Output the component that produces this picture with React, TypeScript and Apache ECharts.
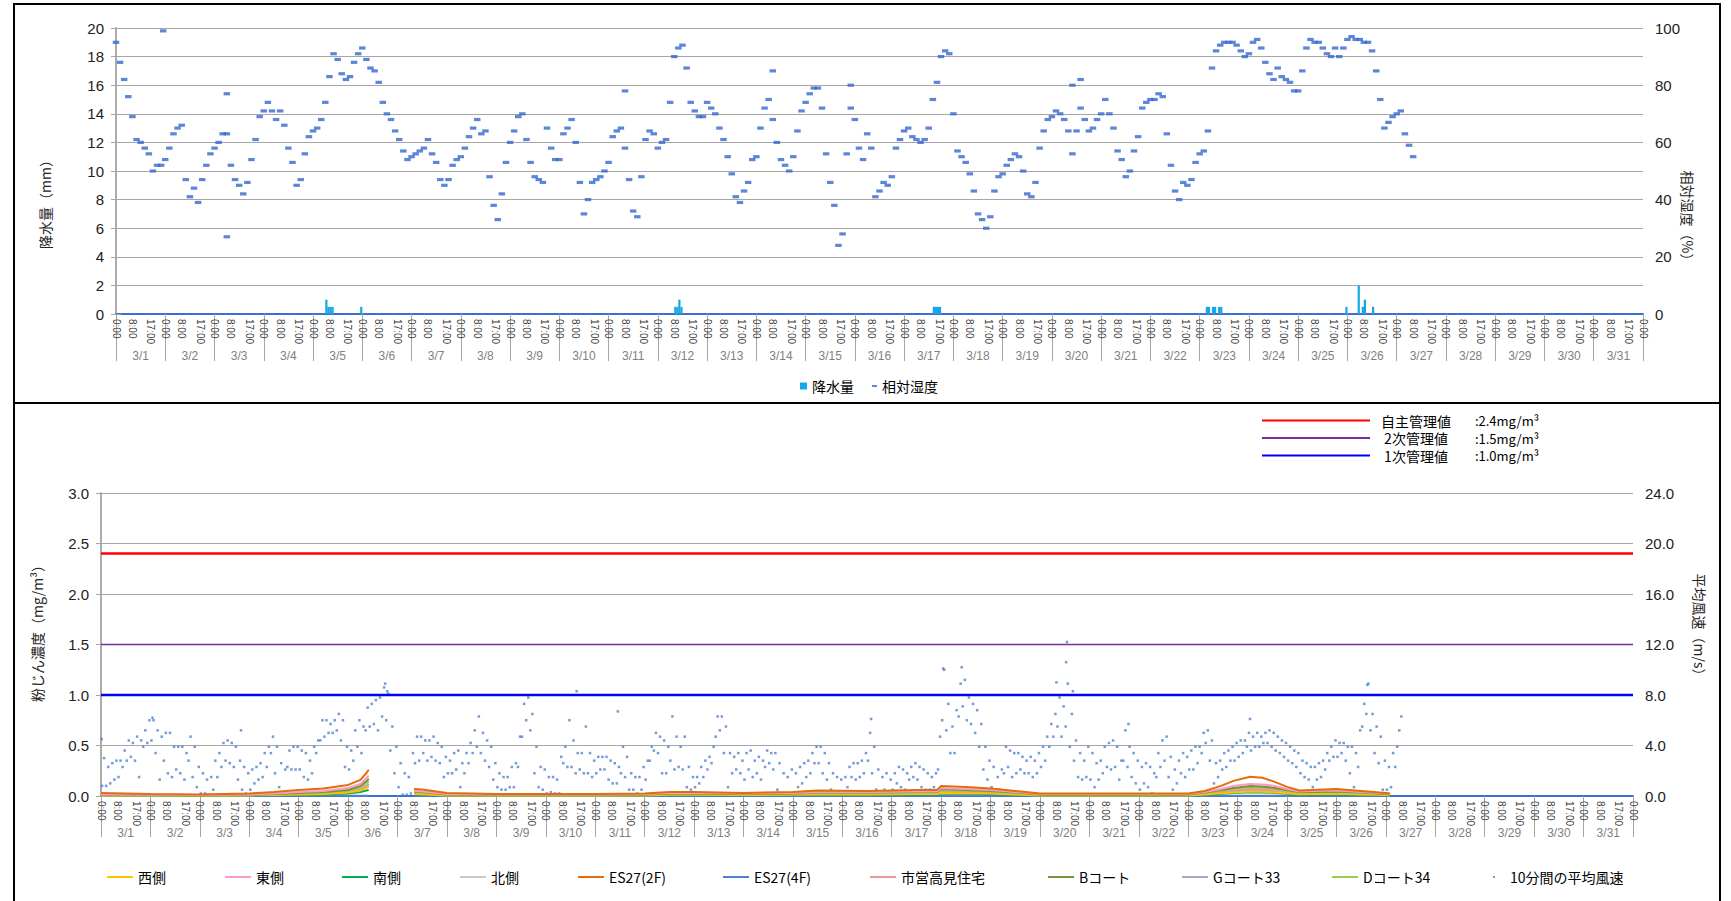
import React, { useEffect, useRef } from 'react';
import * as echarts from 'echarts';

const FONT = '"Noto Sans CJK JP", "Noto Sans", sans-serif';
const NUMFONT = '"Liberation Sans", Arial, sans-serif';
const NARROW = '"Liberation Sans Narrow", "Liberation Sans", sans-serif';

// ---------- axis labels ----------
const dayLabels = Array.from({ length: 31 }, (_, i) => `3/${i + 1}`);
const hourTickOffsets = [0, 8, 17];
const hourTickLabels = ['0:00', '8:00', '17:00'];

// ---------- top chart: precipitation (hourly, mm) ----------
const precipHours = [102, 103, 104, 105, 119, 272, 273, 274, 275, 398, 399, 400, 401, 531, 532, 534, 535, 537, 538, 599, 605, 607, 608, 612];
const precipMm = [1.0, 0.5, 0.5, 0.5, 0.5, 0.5, 0.5, 1.0, 0.5, 0.5, 0.5, 0.5, 0.5, 0.5, 0.5, 0.5, 0.5, 0.5, 0.5, 0.5, 2.0, 0.5, 1.0, 0.5];

// ---------- top chart: relative humidity (%), every 2 hours from 3/1 0:00 ----------
const humidity2h = [
  95, 88, 82, 76, 69, 61, 60, 58, 56, 50, 52, 52, // 3/1
  54, 58, 63, 65, 66, 47, 41, 44, 39, 47, 52, 56, // 3/2
  58, 60, 63, 63, 52, 47, 45, 42, 46, 54, 61, 69, // 3/3
  71, 74, 71, 68, 71, 66, 58, 53, 45, 47, 56, 62, // 3/4
  64, 65, 68, 74, 83, 91, 89, 84, 82, 83, 88, 91, // 3/5
  93, 89, 86, 85, 81, 74, 70, 68, 64, 61, 57, 54, // 3/6
  55, 56, 57, 58, 61, 56, 53, 47, 45, 47, 52, 54, // 3/7
  55, 58, 62, 65, 68, 63, 64, 48, 38, 33, 42, 53, // 3/8
  60, 64, 69, 70, 61, 53, 48, 47, 46, 65, 58, 54, // 3/9
  54, 63, 65, 68, 60, 46, 35, 40, 46, 47, 48, 50, // 3/10
  53, 62, 64, 65, 58, 47, 36, 34, 48, 61, 64, 63, // 3/11
  58, 60, 61, 74, 90, 93, 94, 86, 74, 71, 69, 69, // 3/12
  74, 72, 70, 65, 61, 55, 49, 41, 39, 43, 46, 54, // 3/13
  55, 65, 72, 75, 68, 60, 54, 52, 50, 55, 64, 71, // 3/14
  74, 77, 79, 79, 72, 56, 46, 38, 24, 28, 56, 72, // 3/15
  68, 58, 54, 63, 58, 41, 43, 46, 45, 48, 58, 61, // 3/16
  64, 65, 62, 61, 60, 61, 65, 75, 81, 90, 92, 91, // 3/17
  70, 57, 55, 53, 49, 43, 35, 33, 30, 34, 43, 48, // 3/18
  49, 52, 54, 56, 55, 50, 42, 41, 46, 58, 64, 68, // 3/19
  69, 71, 70, 68, 64, 56, 64, 72, 68, 64, 65, 68, // 3/20
  70, 75, 70, 65, 57, 54, 48, 50, 57, 62, 72, 74, // 3/21
  75, 75, 77, 76, 63, 52, 43, 40, 46, 45, 47, 53, // 3/22
  56, 57, 64, 86, 92, 94, 95, 95, 95, 94, 92, 90, // 3/23
  91, 95, 96, 93, 88, 84, 82, 86, 83, 82, 81, 78, // 3/24
  78, 85, 93, 96, 95, 95, 93, 91, 90, 93, 90, 93, // 3/25
  96, 97, 96, 96, 95, 95, 92, 85, 75, 65, 67, 69, // 3/26
  70, 71, 63, 59, 55, // 3/27
];
const humidityOutliers: [number, number][] = [[23, 99], [54, 77], [54, 27], [248, 78], [320, 85], [358, 80], [466, 80], [470, 82]];

// ---------- bottom chart: dust concentration (mg/m3) ----------
const pmHours = [0, 24, 48, 72, 84, 96, 108, 120, 126, 129, 130, 131, 152, 156, 168, 192, 216, 240, 264, 276, 288, 312, 336, 348, 372, 396, 406, 408, 420, 432, 444, 456, 480, 504, 528, 536, 544, 550, 558, 564, 570, 576, 582, 588, 600, 612, 624, 626];
const pmWest = [
  0.005, 0.005, 0.004, 0.006, 0.01, 0.015, 0.02, 0.035, 0.055, 0.08,
  0.09, null, 0.02, 0.018, 0.006, 0.005, 0.005, 0.005, 0.006, 0.012,
  0.012, 0.01, 0.012, 0.016, 0.016, 0.02, 0.02, 0.03, 0.028, 0.024,
  0.014, 0.006, 0.006, 0.006, 0.006, 0.014, 0.028, 0.035, 0.045, 0.042,
  0.035, 0.028, 0.018, 0.02, 0.022, 0.016, 0.01, 0.006];
const pmEast = [
  0.015, 0.012, 0.01, 0.015, 0.025, 0.04, 0.05, 0.08, 0.12, 0.18,
  0.2, null, 0.05, 0.045, 0.02, 0.015, 0.015, 0.015, 0.02, 0.03,
  0.03, 0.025, 0.03, 0.04, 0.04, 0.045, 0.045, 0.08, 0.07, 0.06,
  0.04, 0.02, 0.02, 0.02, 0.02, 0.04, 0.07, 0.1, 0.12, 0.115,
  0.1, 0.07, 0.045, 0.05, 0.055, 0.04, 0.025, 0.02];
const pmSouth = [
  0.004, 0.004, 0.003, 0.005, 0.008, 0.012, 0.016, 0.025, 0.04, 0.055,
  0.06, null, 0.015, 0.014, 0.005, 0.004, 0.004, 0.004, 0.005, 0.01,
  0.01, 0.008, 0.01, 0.013, 0.013, 0.016, 0.016, 0.025, 0.022, 0.02,
  0.012, 0.005, 0.005, 0.005, 0.005, 0.012, 0.022, 0.03, 0.038, 0.035,
  0.03, 0.022, 0.015, 0.016, 0.018, 0.013, 0.008, 0.005];
const pmNorth = [
  0.008, 0.008, 0.006, 0.01, 0.016, 0.025, 0.03, 0.05, 0.08, 0.12,
  0.14, null, 0.035, 0.03, 0.012, 0.008, 0.008, 0.008, 0.012, 0.02,
  0.02, 0.016, 0.02, 0.028, 0.028, 0.03, 0.03, 0.05, 0.045, 0.04,
  0.025, 0.01, 0.01, 0.01, 0.01, 0.025, 0.045, 0.065, 0.08, 0.075,
  0.065, 0.045, 0.03, 0.032, 0.035, 0.028, 0.015, 0.01];
const pmEs2f = [
  0.03, 0.02, 0.015, 0.025, 0.04, 0.06, 0.075, 0.11, 0.16, 0.23,
  0.26, null, 0.07, 0.065, 0.03, 0.02, 0.02, 0.02, 0.025, 0.04,
  0.04, 0.03, 0.04, 0.055, 0.05, 0.06, 0.06, 0.1, 0.09, 0.075,
  0.05, 0.025, 0.025, 0.025, 0.025, 0.05, 0.1, 0.15, 0.19, 0.18,
  0.14, 0.09, 0.055, 0.06, 0.07, 0.05, 0.03, 0.025];
const pmEs4f = [
  0.002, 0.002, 0.002, 0.002, 0.002, 0.002, 0.002, 0.002, 0.002, 0.002,
  0.002, null, 0.002, 0.002, 0.002, 0.002, 0.002, 0.002, 0.002, 0.002,
  0.002, 0.002, 0.002, 0.002, 0.002, 0.002, 0.002, 0.002, 0.002, 0.002,
  0.002, 0.002, 0.002, 0.002, 0.002, 0.002, 0.002, 0.002, 0.002, 0.002,
  0.002, 0.002, 0.002, 0.002, 0.002, 0.002, 0.002, 0.002];
const pmTakami = [
  0.01, 0.009, 0.007, 0.01, 0.015, 0.022, 0.028, 0.045, 0.07, 0.1,
  0.12, null, 0.03, 0.028, 0.01, 0.008, 0.008, 0.008, 0.01, 0.018,
  0.018, 0.015, 0.018, 0.025, 0.025, 0.028, 0.028, 0.045, 0.04, 0.035,
  0.022, 0.01, 0.01, 0.01, 0.01, 0.022, 0.04, 0.055, 0.07, 0.065,
  0.055, 0.04, 0.028, 0.03, 0.032, 0.025, 0.014, 0.01];
const pmCourtB = [
  0.01, 0.01, 0.008, 0.012, 0.02, 0.03, 0.04, 0.06, 0.1, 0.15,
  0.17, null, 0.045, 0.04, 0.015, 0.012, 0.012, 0.012, 0.015, 0.025,
  0.025, 0.02, 0.025, 0.035, 0.035, 0.04, 0.04, 0.07, 0.06, 0.05,
  0.035, 0.015, 0.015, 0.015, 0.015, 0.035, 0.06, 0.08, 0.1, 0.095,
  0.08, 0.06, 0.04, 0.04, 0.045, 0.035, 0.02, 0.015];
const pmCourtG33 = [
  0.006, 0.006, 0.005, 0.008, 0.012, 0.018, 0.024, 0.04, 0.065, 0.09,
  0.1, null, 0.025, 0.022, 0.008, 0.006, 0.006, 0.006, 0.008, 0.015,
  0.015, 0.012, 0.015, 0.02, 0.02, 0.024, 0.024, 0.04, 0.035, 0.03,
  0.018, 0.008, 0.008, 0.008, 0.008, 0.018, 0.035, 0.045, 0.06, 0.055,
  0.045, 0.035, 0.022, 0.024, 0.026, 0.02, 0.012, 0.008];
const pmCourtD34 = [
  0.012, 0.01, 0.008, 0.01, 0.018, 0.028, 0.035, 0.055, 0.09, 0.13,
  0.15, null, 0.04, 0.036, 0.014, 0.01, 0.01, 0.01, 0.014, 0.022,
  0.022, 0.018, 0.022, 0.03, 0.03, 0.035, 0.035, 0.06, 0.055, 0.045,
  0.03, 0.012, 0.012, 0.012, 0.012, 0.03, 0.055, 0.075, 0.09, 0.085,
  0.075, 0.055, 0.035, 0.036, 0.04, 0.03, 0.018, 0.012];

// ---------- bottom chart: 10-minute mean wind speed (m/s), low/high of each 2h window ----------
const windLo = [
  0.8, 0.8, 1.0, 1.3, 1.5, 2.3, 2.8, 3.1, 2.8, 1.5, 3.9, 4.2,
  4.4, 3.4, 1.3, 2.8, 1.8, 1.5, 2.1, 1.8, 1.3, 2.8, 1.5, 0.7,
  0.2, 0.2, 0.1, 0.5, 1.5, 2.3, 2.8, 2.6, 2.3, 1.3, 0.5, 0.2,
  0.5, 1.0, 1.3, 1.5, 2.3, 3.4, 1.8, 0.7, 0.1, 2.3, 2.1, 2.1,
  2.1, 1.5, 1.3, 1.8, 3.4, 4.4, 4.7, 5.0, 5.0, 5.2, 4.4, 2.3,
  2.1, 2.8, 3.9, 3.4, 5.2, 5.5, 5.7, 5.2, 6.3, 6.0, 3.6, 1.8,
  0.7, 0.1, 0.1, 0.2, 2.6, 2.8, 3.4, 2.8, 3.1, 2.8, 2.6, 1.5,
  1.8, 1.8, 2.1, 0.7, 1.8, 2.6, 3.4, 3.9, 3.4, 2.8, 2.3, 1.3,
  0.7, 0.5, 0.5, 0.7, 0.7, 2.3, 4.7, 6.0, 5.2, 1.8, 0.7, 0.5,
  0.2, 0.3, 0.2, 0.2, 2.6, 2.3, 2.3, 1.8, 2.1, 1.8, 1.8, 1.5,
  1.8, 2.1, 2.1, 1.3, 1.0, 1.0, 1.8, 1.5, 0.5, 0.5, 0.2, 0.5,
  1.3, 2.8, 3.6, 3.4, 1.8, 1.8, 2.8, 2.1, 2.3, 2.1, 0.7, 0.5,
  0.7, 1.0, 1.5, 2.1, 2.6, 4.7, 5.2, 3.4, 0.7, 1.8, 2.1, 1.8,
  1.3, 2.1, 1.5, 1.8, 1.3, 2.3, 2.6, 2.1, 0.5, 0.2, 0.2, 0.2,
  0.2, 0.7, 1.0, 1.5, 1.8, 2.6, 2.6, 1.8, 1.3, 0.5, 0.2, 0.2,
  0.2, 0.7, 1.5, 1.3, 1.5, 1.8, 2.8, 1.8, 0.5, 0.2, 0.5, 0.2,
  0.5, 1.0, 0.7, 0.5, 1.3, 1.5, 1.3, 0.7, 0.5, 0.5, 0.7, 2.1,
  6.0, 5.2, 3.4, 3.4, 6.3, 7.1, 6.0, 5.7, 5.0, 3.9, 2.1, 1.3,
  0.7, 0.2, 0.5, 1.8, 2.3, 1.5, 1.8, 2.1, 1.8, 1.8, 1.5, 1.8,
  2.3, 2.8, 3.9, 4.7, 5.5, 4.7, 5.5, 3.9, 2.8, 1.5, 1.3, 1.5,
  1.3, 0.7, 1.3, 1.8, 2.3, 2.1, 2.3, 1.3, 2.8, 2.3, 1.5, 1.0,
  0.5, 1.0, 0.7, 0.2, 1.5, 2.3, 2.8, 1.5, 0.5, 1.0, 1.8, 1.5,
  2.1, 2.1, 2.6, 3.4, 4.2, 2.8, 1.0, 1.5, 2.1, 2.3, 2.8, 2.8,
  3.1, 3.4, 3.9, 3.6, 3.9, 3.9, 4.2, 4.2, 3.9, 3.6, 3.4, 3.1,
  2.8, 2.6, 2.3, 1.8, 1.5, 1.3, 0.7, 1.3, 1.5, 2.1, 2.8, 3.1,
  3.1, 3.4, 2.8, 1.8, 0.7, 2.3, 5.5, 6.5, 5.2, 3.4, 2.6, 0.5,
  0.5, 0.7, 2.3, 5.2,
];
const windHi = [
  3.0, 2.3, 2.6, 2.8, 2.8, 3.6, 4.4, 4.2, 4.7, 4.4, 5.2, 6.0,
  6.0, 5.2, 4.7, 5.0, 5.0, 3.9, 3.9, 3.9, 3.4, 4.7, 3.9, 2.3,
  1.8, 1.3, 1.5, 2.8, 3.4, 4.2, 4.4, 4.2, 3.9, 2.8, 2.3, 1.8,
  2.1, 2.3, 2.6, 3.4, 3.9, 4.7, 3.9, 2.6, 2.1, 3.6, 3.9, 3.9,
  3.6, 3.4, 2.8, 3.9, 4.4, 6.0, 6.0, 5.7, 6.0, 6.5, 6.0, 3.9,
  3.6, 5.2, 6.0, 5.5, 7.0, 7.3, 7.6, 7.8, 8.6, 8.1, 5.5, 3.9,
  2.6, 1.8, 1.5, 3.4, 4.7, 4.7, 4.4, 4.4, 4.7, 4.2, 3.9, 3.1,
  2.8, 3.4, 3.6, 2.6, 3.4, 4.2, 5.2, 6.3, 5.0, 4.4, 3.9, 2.6,
  1.8, 1.5, 1.5, 2.3, 2.6, 4.7, 7.3, 7.8, 6.5, 3.9, 2.3, 2.1,
  1.5, 1.5, 1.3, 3.1, 3.9, 6.0, 4.4, 3.4, 3.4, 5.5, 3.4, 2.8,
  3.1, 3.1, 3.1, 2.8, 2.6, 2.3, 3.9, 3.1, 1.8, 1.5, 1.5, 2.3,
  2.8, 3.9, 5.0, 4.7, 4.4, 3.9, 6.3, 4.7, 3.9, 4.7, 2.3, 1.5,
  1.5, 2.3, 2.8, 3.1, 3.9, 6.3, 6.3, 5.5, 3.4, 3.1, 3.4, 2.8,
  3.4, 3.6, 2.8, 3.1, 2.8, 3.6, 3.4, 3.4, 2.6, 1.8, 1.5, 2.1,
  1.8, 2.3, 2.6, 2.8, 3.4, 3.9, 3.9, 3.4, 2.6, 1.8, 1.5, 1.3,
  1.5, 2.3, 2.6, 2.6, 2.8, 3.4, 5.0, 3.9, 2.1, 1.5, 1.8, 1.3,
  1.8, 2.3, 2.1, 1.8, 2.3, 2.6, 2.3, 2.1, 1.8, 1.5, 1.8, 4.7,
  10.0, 7.3, 5.5, 6.8, 8.9, 9.2, 7.8, 7.3, 6.8, 5.7, 3.9, 2.8,
  2.3, 1.5, 2.1, 3.9, 3.6, 3.4, 3.4, 3.1, 2.8, 3.1, 2.8, 3.4,
  3.9, 4.7, 5.7, 6.5, 7.8, 7.1, 8.9, 6.5, 4.4, 3.4, 2.8, 3.9,
  3.4, 2.6, 2.8, 3.9, 4.2, 4.4, 3.9, 2.8, 5.2, 3.9, 3.4, 2.8,
  2.3, 2.6, 2.3, 1.8, 3.4, 4.4, 4.7, 3.1, 2.1, 2.8, 3.4, 3.1,
  3.6, 3.9, 3.9, 5.0, 5.2, 4.4, 2.6, 2.8, 3.4, 3.6, 3.9, 4.2,
  4.4, 4.4, 5.0, 4.7, 5.0, 4.7, 5.0, 5.2, 5.0, 4.7, 4.4, 4.2,
  3.9, 3.6, 3.4, 2.8, 2.6, 2.3, 2.3, 2.6, 2.8, 3.4, 3.9, 4.4,
  4.2, 4.2, 3.9, 3.9, 3.4, 5.2, 7.3, 8.9, 6.5, 5.5, 4.7, 2.8,
  2.3, 3.4, 3.9, 6.3,
];
const windPeaks: [number, number][] = [[0.3, 4.5], [25, 6.2], [68, 5.2], [138, 8.9], [139, 8.3], [231, 8.3], [251, 6.7], [374, 6.1], [409, 10.1], [418, 10.2], [464, 9.0], [468.7, 10.6], [469.1, 12.2], [472, 8.3], [499, 5.7], [558, 6.1], [615, 8.8]];

// ---------- limit values ----------
const limitNames = ['自主管理値', '2次管理値', '1次管理値'];
const limitValues = [2.4, 1.5, 1.0];
const limitTexts = [':2.4mg/m³', ':1.5mg/m³', ':1.0mg/m³'];
const limitColors = ['#ff0000', '#7030a0', '#0000ff'];
const limitWidths = [2.5, 1.5, 2.5];

const pmSeriesDefs: { name: string; data: (number | null)[]; color: string }[] = [
  { name: '西側', data: pmWest, color: '#ffc000' },
  { name: '東側', data: pmEast, color: '#ff99cc' },
  { name: '南側', data: pmSouth, color: '#00b050' },
  { name: '北側', data: pmNorth, color: '#c8c8c8' },
  { name: 'ES27(2F)', data: pmEs2f, color: '#e46c0a' },
  { name: 'ES27(4F)', data: pmEs4f, color: '#4f81d0' },
  { name: '市営高見住宅', data: pmTakami, color: '#e6999b' },
  { name: 'Bコート', data: pmCourtB, color: '#77933c' },
  { name: 'Gコート33', data: pmCourtG33, color: '#b3a2c7' },
  { name: 'Dコート34', data: pmCourtD34, color: '#92d050' },
];
const legendLefts = [107, 225, 342, 460, 578, 723, 870, 1048, 1182, 1332];
const WIND_NAME = '10分間の平均風速';

const dayBounds = Array.from({ length: 32 }, (_, d) => d * 24);
const dayCenters = Array.from({ length: 31 }, (_, d) => d * 24 + 12);
const hourTicks: number[] = [];
for (let d = 0; d < 31; d++) hourTickOffsets.forEach((h) => hourTicks.push(d * 24 + h));
hourTicks.push(744);

function hourAxis(gridIndex: number, tickLen: number) {
  return {
    type: 'value', gridIndex, min: 0, max: 744, position: 'bottom',
    axisLine: { show: true, onZero: false, lineStyle: { color: '#3b6fd4', width: 2 } },
    axisTick: { show: true, customValues: dayBounds, length: tickLen, lineStyle: { color: '#a6a6a6', width: 1 } },
    axisLabel: {
      customValues: hourTicks, showMinLabel: true, showMaxLabel: true,
      formatter: (v: number) => hourTickLabels[hourTickOffsets.indexOf(Math.round(v) % 24)],
      rotate: -90, margin: 5, fontSize: 10, color: '#404040', fontFamily: NARROW,
    },
    splitLine: { show: false },
  };
}
function dayAxis(gridIndex: number, offset: number) {
  return {
    type: 'value', gridIndex, min: 0, max: 744, position: 'bottom', offset,
    axisLine: { show: false }, axisTick: { show: false }, splitLine: { show: false },
    axisLabel: {
      customValues: dayCenters, formatter: (v: number) => dayLabels[Math.floor(v / 24)],
      fontSize: 12, color: '#7f7f7f', margin: 0, fontFamily: NUMFONT,
    },
  };
}
function yAxis(gridIndex: number, position: string, max: number, interval: number, split: boolean, digits: number) {
  return {
    type: 'value', gridIndex, position, min: 0, max, interval,
    axisLine: { show: true, lineStyle: { color: '#a6a6a6', width: 1.5 } },
    axisTick: { show: true, length: 5, lineStyle: { color: '#a6a6a6' } },
    axisLabel: { fontSize: 15, color: '#222', margin: 12, fontFamily: NUMFONT, formatter: (v: number) => v.toFixed(digits) },
    splitLine: { show: split, lineStyle: { color: '#a6a6a6', width: 1 } },
  };
}

function buildOption() {
  const series: any[] = [];
  series.push({
    name: '降水量', type: 'bar', xAxisIndex: 0, yAxisIndex: 0, barWidth: 2.2,
    itemStyle: { color: '#16a6e6' }, data: precipHours.map((h, i) => [h + 0.5, precipMm[i]]),
  });
  series.push({
    name: '相対湿度', type: 'scatter', xAxisIndex: 0, yAxisIndex: 1, symbol: 'rect', symbolSize: [6.5, 3.2],
    itemStyle: { color: '#3468d0' },
    data: humidity2h.map((v, i) => [i * 2, v]).concat(humidityOutliers),
  });
  series.push({
    name: WIND_NAME, type: 'scatter', xAxisIndex: 2, yAxisIndex: 3, symbol: 'rect', symbolSize: 2.5,
    itemStyle: { color: '#4f83cc' },
    data: windLo.map((v, i) => [i * 2 + 0.5, v]).concat(windHi.map((v, i) => [i * 2 + 1.5, v])).concat(windPeaks),
  });
  const order = [5, 3, 8, 6, 2, 0, 9, 7, 1, 4];
  order.forEach((k) => {
    const s = pmSeriesDefs[k];
    series.push({
      name: s.name, type: 'line', xAxisIndex: 2, yAxisIndex: 2, symbol: 'none', connectNulls: false,
      lineStyle: { color: s.color, width: 2 }, itemStyle: { color: s.color },
      data: pmHours.map((h, i) => [h, s.data[i]]),
    });
  });
  limitNames.forEach((n, i) => {
    series.push({
      name: n, type: 'line', xAxisIndex: 2, yAxisIndex: 2, symbol: 'none',
      lineStyle: { color: limitColors[i], width: limitWidths[i] }, itemStyle: { color: limitColors[i] },
      data: [[0, limitValues[i]], [744, limitValues[i]]], z: 5,
    });
  });

  const legendText = { fontSize: 14, fontFamily: FONT, color: '#000' };
  const legends: any[] = [
    { data: ['降水量'], left: 800, top: 379, padding: 0, itemWidth: 7, itemHeight: 7, icon: 'rect', selectedMode: false, textStyle: legendText },
    { data: ['相対湿度'], left: 872, top: 379, padding: 0, itemWidth: 5, itemHeight: 2, icon: 'rect', selectedMode: false, textStyle: legendText },
    {
      data: limitNames.map((n) => ({ name: n, icon: 'rect' })), orient: 'vertical', left: 1262, top: 413, padding: 0,
      itemWidth: 108, itemHeight: 2, itemGap: 2.5, selectedMode: false,
      formatter: (n: string) => `{n|${n}}{v|${limitTexts[limitNames.indexOf(n)]}}`,
      textStyle: {
        ...legendText, fontSize: 14, lineHeight: 15,
        rich: {
          n: { width: 82, align: 'right', fontSize: 14, lineHeight: 15, fontFamily: FONT, color: '#000' },
          v: { width: 84, align: 'left', fontSize: 13, lineHeight: 15, fontFamily: FONT, color: '#000', padding: [0, 0, 0, 8] },
        },
      },
    },
  ];
  pmSeriesDefs.forEach((s, i) => {
    legends.push({ data: [{ name: s.name, icon: 'rect' }], left: legendLefts[i], top: 870, padding: 0, itemWidth: 26, itemHeight: 2, selectedMode: false, textStyle: legendText });
  });
  legends.push({ data: [WIND_NAME], left: 1493, top: 870, padding: 0, itemWidth: 2, itemHeight: 2, icon: 'rect', selectedMode: false, textStyle: { ...legendText, padding: [0, 0, 0, 10] } });

  const nameStyle = { fontSize: 14, fontFamily: FONT, fill: '#222', textAlign: 'center', textVerticalAlign: 'middle' };
  return {
    animation: false,
    backgroundColor: '#ffffff',
    grid: [
      { left: 116, top: 28, width: 1527, height: 286 },
      { left: 101, top: 493, width: 1532, height: 303 },
    ],
    xAxis: [hourAxis(0, 47), dayAxis(0, 36), hourAxis(1, 41), dayAxis(1, 31)],
    yAxis: [
      yAxis(0, 'left', 20, 2, true, 0),
      yAxis(0, 'right', 100, 20, false, 0),
      yAxis(1, 'left', 3, 0.5, true, 1),
      yAxis(1, 'right', 24, 4, false, 1),
    ],
    legend: legends,
    series,
    graphic: [
      { type: 'rect', shape: { x: 14, y: 4, width: 1706, height: 399 }, style: { fill: 'none', stroke: '#000', lineWidth: 2 }, silent: true },
      { type: 'rect', shape: { x: 14, y: 403, width: 1706, height: 560 }, style: { fill: 'none', stroke: '#000', lineWidth: 2 }, silent: true },
      { type: 'text', x: 45, y: 201, rotation: Math.PI / 2, style: { ...nameStyle, text: '降水量（mm）' } },
      { type: 'text', x: 1688, y: 219, rotation: -Math.PI / 2, style: { ...nameStyle, text: '相対湿度（%）' } },
      { type: 'text', x: 37, y: 630, rotation: Math.PI / 2, style: { ...nameStyle, text: '粉じん濃度（mg/m³）' } },
      { type: 'text', x: 1700, y: 628, rotation: -Math.PI / 2, style: { ...nameStyle, text: '平均風速（m/s）' } },
    ],
  };
}

export default function App() {
  const ref = useRef<HTMLDivElement>(null);
  useEffect(() => {
    if (!ref.current) return;
    const chart = echarts.init(ref.current, null, { renderer: 'svg' });
    chart.setOption(buildOption() as any);
    return () => chart.dispose();
  }, []);
  return (
    <div
      ref={ref}
      style={{ position: 'absolute', left: 0, top: 0, width: 1731, height: 901, background: '#fff' }}
    />
  );
}
